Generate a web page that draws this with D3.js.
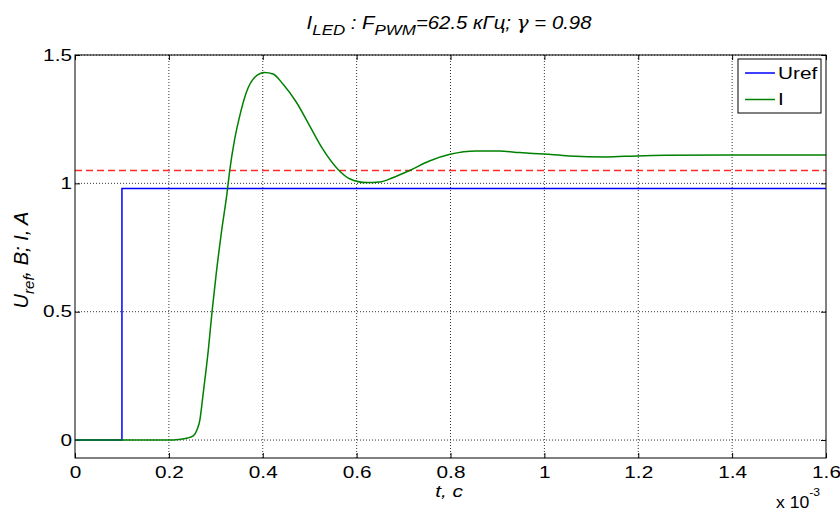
<!DOCTYPE html>
<html>
<head>
<meta charset="utf-8">
<script src="https://cdn.jsdelivr.net/npm/d3@7"></script>
<style>
  body { margin: 0; background: #fff; }
  svg { font-family: "Liberation Sans", Arial, sans-serif; }
  .grid line { stroke: #000; stroke-dasharray: 1,2; stroke-width: 0.8; }
  .tick text { font-size: 16px; fill: #000; }
</style>
</head>
<body>
<svg id="chart" width="840" height="508"></svg>
<script>
// time in ms (axis shows x 10^-3 s)
const xTicks = [0, 0.2, 0.4, 0.6, 0.8, 1, 1.2, 1.4, 1.6];
const yTicks = [0, 0.5, 1, 1.5];

const urefT = [0, 0.1, 0.1, 1.6];
const urefV = [0, 0, 0.98, 0.98];

const levelV = 1.05;

const iT = [0, 0.2, 0.22, 0.24, 0.252, 0.26, 0.266, 0.273, 0.284, 0.292, 0.301,
  0.312, 0.324, 0.33, 0.34, 0.351, 0.365, 0.383, 0.404, 0.422, 0.443, 0.472,
  0.5, 0.528, 0.56, 0.585, 0.621, 0.649, 0.677, 0.713, 0.755, 0.799, 0.855,
  0.904, 0.947, 0.999, 1.053, 1.131, 1.197, 1.259, 1.401, 1.6];
const iV = [0, 0, 0.002, 0.008, 0.016, 0.04, 0.078, 0.18, 0.35, 0.5, 0.65,
  0.81, 0.964, 1.055, 1.17, 1.263, 1.354, 1.413, 1.432, 1.426, 1.387, 1.315,
  1.224, 1.133, 1.055, 1.018, 1.003, 1.005, 1.022, 1.05, 1.087, 1.113, 1.126,
  1.126, 1.12, 1.114, 1.107, 1.103, 1.107, 1.109, 1.11, 1.11];

const legendItems = [
  { label: "Uref", color: "#0000ff" },
  { label: "I", color: "#008000" },
];

const margin = { top: 55, right: 14, bottom: 50, left: 75 };
const width = 840 - margin.left - margin.right;
const height = 508 - margin.top - margin.bottom;

// the figure's text is wider than the font: stretch horizontally
const K = 1.3;
function stretch(sel, k = K) {
  sel.each(function () {
    const t = d3.select(this);
    const x0 = +t.attr("x") || 0;
    t.attr("x", x0 / k).attr("transform", `scale(${k},1)`);
  });
}

const svg = d3.select("#chart");
const g = svg.append("g").attr("transform", `translate(${margin.left},${margin.top})`);

const x = d3.scaleLinear().domain([0, 1.6]).range([0, width]);
const y = d3.scaleLinear().domain([-0.07, 1.5]).range([height, 0]);

// grid
g.append("g").attr("class", "grid")
  .selectAll("line").data(xTicks.slice(1, -1)).join("line")
  .attr("x1", (d) => x(d)).attr("x2", (d) => x(d))
  .attr("y1", 0).attr("y2", height);
g.append("g").attr("class", "grid")
  .selectAll("line").data(yTicks).join("line")
  .attr("x1", 0).attr("x2", width)
  .attr("y1", (d) => y(d)).attr("y2", (d) => y(d));

// axes with inward ticks
const fmt = (d) => String(d);
g.append("g").attr("transform", `translate(0,${height})`)
  .call(d3.axisBottom(x).tickValues(xTicks).tickFormat(fmt).tickSizeInner(-5).tickSizeOuter(0).tickPadding(9))
  .call((a) => a.select(".domain").remove())
  .call((a) => stretch(a.selectAll("text")));
g.append("g")
  .call(d3.axisTop(x).tickValues(xTicks).tickFormat("").tickSizeInner(-5).tickSizeOuter(0))
  .call((a) => a.select(".domain").remove());
g.append("g")
  .call(d3.axisLeft(y).tickValues(yTicks).tickFormat(fmt).tickSizeInner(-5).tickSizeOuter(0).tickPadding(3))
  .call((a) => a.select(".domain").remove())
  .call((a) => stretch(a.selectAll("text")));
g.append("g").attr("transform", `translate(${width},0)`)
  .call(d3.axisRight(y).tickValues(yTicks).tickFormat("").tickSizeInner(-5).tickSizeOuter(0))
  .call((a) => a.select(".domain").remove());
g.selectAll(".tick line").attr("stroke", "#000");

// data lines
const line = d3.line().x((d) => x(d[0])).y((d) => y(d[1]));

g.append("path")
  .datum(urefT.map((t, i) => [t, urefV[i]]))
  .attr("fill", "none").attr("stroke", "#0000ff").attr("stroke-width", 1.5)
  .attr("d", line);

g.append("path")
  .datum(x.domain().map((t) => [t, levelV]))
  .attr("fill", "none").attr("stroke", "#ff2a2a").attr("stroke-width", 1.5)
  .attr("stroke-dasharray", "7,4")
  .attr("d", line);

g.append("path")
  .datum(iT.map((t, i) => [t, iV[i]]))
  .attr("fill", "none").attr("stroke", "#008000").attr("stroke-width", 1.5)
  .attr("d", line.curve(d3.curveMonotoneX));

// box
g.append("rect").attr("width", width).attr("height", height)
  .attr("fill", "none").attr("stroke", "#000").attr("stroke-width", 1);

// legend
const lg = g.append("g").attr("transform", `translate(${width - 88},4)`);
lg.append("rect").attr("width", 83).attr("height", 54)
  .attr("fill", "#fff").attr("stroke", "#000").attr("stroke-width", 1);
lg.selectAll("g.item").data(legendItems).join("g").attr("class", "item")
  .attr("transform", (d, i) => `translate(0,${14 + i * 26.5})`)
  .each(function (d) {
    const it = d3.select(this);
    it.append("line").attr("x1", 7).attr("x2", 37)
      .attr("stroke", d.color).attr("stroke-width", 1.5);
    it.append("text").attr("x", 40).attr("dy", "0.35em")
      .attr("font-size", 16).text(d.label)
      .call(stretch);
  });

// title
const title = svg.append("text").attr("x", 449).attr("y", 29)
  .attr("text-anchor", "middle").attr("font-size", 18).attr("font-style", "italic");
title.append("tspan").text("I");
title.append("tspan").attr("dy", 6).attr("font-size", 15).text("LED");
title.append("tspan").attr("dy", -6).text(" : F");
title.append("tspan").attr("dy", 6).attr("font-size", 15).text("PWM");
title.append("tspan").attr("dy", -6).text("=62.5 кГц; ");
title.append("tspan").attr("font-family", "DejaVu Serif").text("γ");
title.append("tspan").text(" = 0.98");
stretch(title, 1.13);

// x label
svg.append("text").attr("x", 449).attr("y", 497)
  .attr("text-anchor", "middle").attr("font-size", 16).attr("font-style", "italic")
  .text("t, c")
  .call(stretch);

// exponent
const ex = svg.append("text").attr("x", 776).attr("y", 508).attr("font-size", 16);
ex.append("tspan").text("x 10");
ex.append("tspan").attr("dy", -12).attr("font-size", 11).text("-3");
stretch(ex, 1.1);

// y label
const yl = svg.append("text")
  .attr("transform", `translate(28,260) rotate(-90)`)
  .attr("text-anchor", "middle").attr("font-size", 20).attr("font-style", "italic");
yl.append("tspan").text("U");
yl.append("tspan").attr("dy", 6).attr("font-size", 15).text("ref");
yl.append("tspan").attr("dy", -6).text(", B; I, A");
</script>
</body>
</html>
